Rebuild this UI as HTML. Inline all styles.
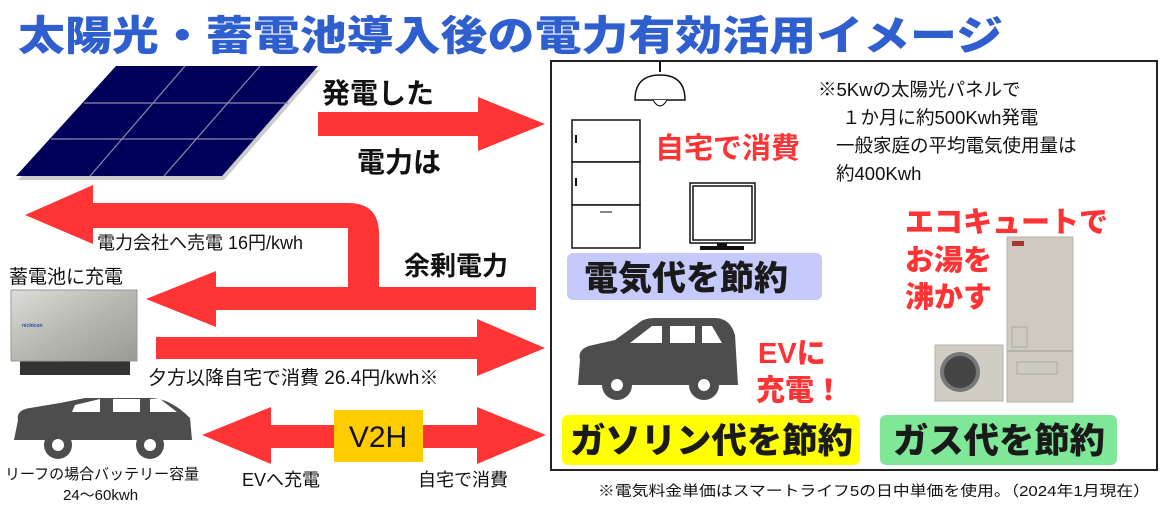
<!DOCTYPE html>
<html><head><meta charset="utf-8"><style>
body{margin:0;background:#fff;}
svg text{font-family:"Liberation Sans","Noto Sans CJK JP",sans-serif;}
</style></head><body>
<svg width="1165" height="505" viewBox="0 0 1165 505" xmlns="http://www.w3.org/2000/svg">
<rect width="1165" height="505" fill="#fff"/>
<!-- title -->
<text x="18" y="50" font-size="41" font-weight="900" fill="#2f5fcf" textLength="985" lengthAdjust="spacingAndGlyphs">太陽光・蓄電池導入後の電力有効活用イメージ</text>
<!-- solar panel -->
<polygon points="18,180 224,180 320,70 118,70" fill="#ccc"/>
<polygon points="16,176 222,176 318,66 116,66" fill="#00005a"/>
<g stroke="#8a8aa8" stroke-width="1.2">
<line x1="84" y1="103" x2="288" y2="103"/>
<line x1="51" y1="139" x2="255" y2="139"/>
<line x1="90" y1="176" x2="185" y2="66"/>
<line x1="164" y1="176" x2="260" y2="66"/>
</g>
<!-- arrow 1 -->
<polygon points="318,112 478,112 478,97 545,124 478,151 478,136 318,136" fill="#ff3535"/>
<text x="322" y="103" font-size="28" font-weight="bold" fill="#111">発電した</text>
<text x="357" y="172" font-size="28" font-weight="bold" fill="#111">電力は</text>
<!-- big sell arrow -->
<path d="M93,203 L348,203 Q379,203 379,234 L379,290 L348,290 L348,228 L93,228 L93,244 L25,215 L93,185 Z" fill="#ff3535"/>
<!-- arrow 2 -->
<polygon points="536,287 216,287 216,271 146,299 216,327 216,310 536,310" fill="#ff3535"/>
<!-- arrow 3 -->
<polygon points="156,337 477,337 477,319 545,348 477,376 477,359 156,359" fill="#ff3535"/>
<text x="97" y="249" font-size="18" fill="#111">電力会社へ売電 16円/kwh</text>
<text x="404" y="275" font-size="26" font-weight="bold" fill="#111">余剰電力</text>
<text x="9" y="283" font-size="19" fill="#111">蓄電池に充電</text>
<text x="148" y="384" font-size="19" fill="#111">夕方以降自宅で消費 26.4円/kwh※</text>
<!-- battery -->
<defs><linearGradient id="bat" x1="0" y1="0" x2="1" y2="1"><stop offset="0" stop-color="#dcdcd8"/><stop offset="0.5" stop-color="#b8b8b2"/><stop offset="1" stop-color="#9a9a94"/></linearGradient></defs>
<rect x="20" y="360" width="110" height="15" fill="#333"/>
<rect x="11" y="290" width="126" height="71" fill="url(#bat)" stroke="#999"/>
<text x="22" y="327" font-size="5" fill="#2a4aa0" font-weight="bold">nichicon</text>
<!-- car left -->
<path d="M18,420 Q16,410 30,408 L60,403 L85,398 L150,398 Q170,398 190,418 L192,440 L14,440 Z" fill="#4d4d4d"/>
<path d="M60,403 L85,398 Q90,398 150,398" fill="none"/>
<polygon points="75,405 100,399 100,412 72,412" fill="#fff"/>
<rect x="113" y="399" width="27" height="13" fill="#fff"/>
<polygon points="150,399 160,399 177,412 150,412" fill="#fff"/>
<circle cx="58" cy="445" r="14" fill="#4d4d4d"/><circle cx="58" cy="445" r="6" fill="#fff"/>
<circle cx="150" cy="445" r="14" fill="#4d4d4d"/><circle cx="150" cy="445" r="6" fill="#fff"/>
<text x="5" y="479" font-size="15" fill="#111">リーフの場合バッテリー容量</text>
<text x="63" y="500" font-size="15" fill="#111">24〜60kwh</text>
<!-- V2H double arrow -->
<polygon points="202,435 271,407 271,425 477,425 477,407 546,435 477,464 477,448 271,448 271,464" fill="#ff3535"/>
<rect x="334" y="410" width="89" height="52" fill="#ffcc00"/>
<text x="378" y="447" font-size="30" text-anchor="middle" fill="#111">V2H</text>
<text x="242" y="486" font-size="18" fill="#111">EVへ充電</text>
<text x="418" y="486" font-size="18" fill="#111">自宅で消費</text>
<!-- right box -->
<rect x="551" y="61" width="606" height="409" fill="#fff" stroke="#222" stroke-width="2"/>
<!-- lamp -->
<line x1="660" y1="62" x2="660" y2="72" stroke="#111" stroke-width="2"/>
<path d="M635,100 Q635,75 660,75 Q685,75 685,100 Z" fill="#fff" stroke="#111" stroke-width="1.5"/>
<path d="M653,100 Q660,112 667,100" fill="#fff" stroke="#111" stroke-width="1.2"/>
<!-- fridge -->
<g fill="#fff" stroke="#111" stroke-width="1.5">
<rect x="572" y="120" width="68" height="42"/>
<rect x="572" y="162" width="68" height="43"/>
<rect x="572" y="205" width="68" height="43"/>
<rect x="690" y="183" width="65" height="60"/>
<rect x="693" y="186" width="59" height="54"/>
</g>
<rect x="575" y="135" width="2" height="8" fill="#111"/><rect x="575" y="178" width="2" height="8" fill="#111"/>
<line x1="600" y1="212" x2="612" y2="212" stroke="#111"/>
<rect x="717" y="243" width="10" height="4" fill="#111"/><rect x="700" y="246" width="44" height="4" fill="#111"/>
<text x="655" y="158" font-size="29" font-weight="bold" fill="#f33">自宅で消費</text>
<g font-size="18.5" fill="#111">
<text x="818" y="96">※5Kwの太陽光パネルで</text>
<text x="842" y="124">１か月に約500Kwh発電</text>
<text x="836" y="152">一般家庭の平均電気使用量は</text>
<text x="836" y="180">約400Kwh</text>
</g>
<rect x="567" y="253" width="255" height="47" rx="6" fill="#c6c9fb"/>
<text x="584" y="290" font-size="34" font-weight="900" fill="#1a1a1a">電気代を節約</text>
<g font-size="29" font-weight="900" fill="#f33">
<text x="905" y="232">エコキュートで</text>
<text x="905" y="270">お湯を</text>
<text x="905" y="307">沸かす</text>
</g>
<!-- ecocute -->
<rect x="1007" y="237" width="66" height="165" fill="#cfcac0" stroke="#b8b3a8"/>
<rect x="1012" y="241" width="12" height="5" fill="#a33"/>
<rect x="1007" y="350" width="66" height="2" fill="#b8b3a8"/>
<rect x="1012" y="327" width="15" height="20" fill="none" stroke="#aaa"/>
<rect x="1017" y="362" width="40" height="12" fill="none" stroke="#aaa"/>
<rect x="935" y="345" width="68" height="56" fill="#d2cdc4" stroke="#b8b3a8"/>
<circle cx="960" cy="372" r="20" fill="#777"/><circle cx="960" cy="372" r="16" fill="#444"/>
<!-- car right -->
<path d="M580,360 Q577,348 593,345 L615,340 L640,322 Q645,318 655,318 L715,318 Q730,318 735,335 L738,385 L578,385 Z" fill="#4d4d4d"/>
<polygon points="630,343 652,326 662,326 662,343" fill="#fff"/>
<rect x="670" y="326" width="25" height="17" fill="#fff"/>
<polygon points="702,326 712,326 722,343 702,343" fill="#fff"/>
<circle cx="617" cy="385" r="15" fill="#4d4d4d"/><circle cx="617" cy="385" r="6" fill="#fff"/>
<circle cx="704" cy="385" r="15" fill="#4d4d4d"/><circle cx="704" cy="385" r="6" fill="#fff"/>
<text x="758" y="363" font-size="29" font-weight="900" fill="#f33">EVに</text>
<text x="756" y="400" font-size="29" font-weight="900" fill="#f33">充電！</text>
<rect x="562" y="415" width="298" height="50" rx="6" fill="#ffff00"/>
<text x="570" y="453" font-size="35" font-weight="900" fill="#1a1a1a" textLength="283" lengthAdjust="spacingAndGlyphs">ガソリン代を節約</text>
<rect x="880" y="415" width="237" height="50" rx="6" fill="#7ee898"/>
<text x="893" y="453" font-size="35" font-weight="900" fill="#1a1a1a" textLength="212" lengthAdjust="spacingAndGlyphs">ガス代を節約</text>
<text x="598" y="496" font-size="14.5" fill="#111" textLength="552" lengthAdjust="spacingAndGlyphs">※電気料金単価はスマートライフ5の日中単価を使用。（2024年1月現在）</text>
</svg>
</body></html>
